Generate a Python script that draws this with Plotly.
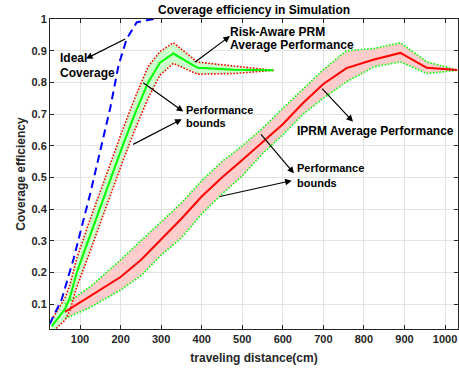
import plotly.graph_objects as go

# ---------------- data ----------------
ideal_x = [25, 55, 84, 100, 125, 150, 175, 195, 215, 240, 260, 282]
ideal_y = [0.037, 0.116, 0.243, 0.322, 0.448, 0.585, 0.722, 0.854, 0.937, 0.99, 0.995, 1.0]

ra_x = [30, 63, 75, 92, 120, 148, 176, 205, 235, 268, 297, 330, 390, 480, 577]
ra_mean = [0.03, 0.085, 0.12, 0.2, 0.3, 0.4, 0.5, 0.6, 0.7, 0.8, 0.862, 0.891, 0.846, 0.840, 0.838]
ra_upper = [0.05, 0.12, 0.16, 0.245, 0.35, 0.45, 0.55, 0.65, 0.75, 0.85, 0.897, 0.925, 0.864, 0.852, 0.838]
ra_lower = [0.01, 0.05, 0.08, 0.155, 0.25, 0.35, 0.45, 0.55, 0.65, 0.75, 0.823, 0.860, 0.826, 0.828, 0.838]

ip_x = [63, 125, 200, 250, 300, 350, 400, 450, 500, 550, 600, 650, 700, 757, 825, 890, 955, 1030]
ip_mean = [0.076, 0.125, 0.186, 0.24, 0.305, 0.37, 0.44, 0.50, 0.555, 0.613, 0.668, 0.735, 0.795, 0.845, 0.872, 0.893, 0.846, 0.839]
ip_upper = [0.10, 0.155, 0.24, 0.30, 0.36, 0.42, 0.49, 0.55, 0.60, 0.655, 0.718, 0.78, 0.84, 0.90, 0.907, 0.925, 0.865, 0.839]
ip_lower = [0.055, 0.09, 0.145, 0.19, 0.255, 0.31, 0.385, 0.448, 0.505, 0.575, 0.635, 0.70, 0.75, 0.802, 0.849, 0.865, 0.828, 0.838]

x_ticks = [100, 200, 300, 400, 500, 600, 700, 800, 900, 1000]
y_ticks = [0.1, 0.2, 0.3, 0.4, 0.5, 0.6, 0.7, 0.8, 0.9, 1.0]
y_tick_text = ["0.1", "0.2", "0.3", "0.4", "0.5", "0.6", "0.7", "0.8", "0.9", "1"]

title_text = "Coverage efficiency in Simulation"
x_label = "traveling distance(cm)"
y_label = "Coverage efficiency"

FONT = "Liberation Sans, Arial, sans-serif"
DARK = "#262626"

fig = go.Figure()

# fills
fig.add_trace(go.Scatter(x=ip_x + ip_x[::-1], y=ip_upper + ip_lower[::-1], fill="toself",
                         fillcolor="rgb(255,204,204)", line=dict(width=0), mode="lines",
                         hoverinfo="skip", showlegend=False))
fig.add_trace(go.Scatter(x=ra_x + ra_x[::-1], y=ra_upper + ra_lower[::-1], fill="toself",
                         fillcolor="rgb(204,255,204)", line=dict(width=0), mode="lines",
                         hoverinfo="skip", showlegend=False))

# bounds
for yy in (ip_upper, ip_lower):
    fig.add_trace(go.Scatter(x=ip_x, y=yy, mode="lines", showlegend=False,
                             line=dict(color="#00ff00", width=1.6, dash="1.6px,1.6px")))
for yy in (ra_upper, ra_lower):
    fig.add_trace(go.Scatter(x=ra_x, y=yy, mode="lines", showlegend=False,
                             line=dict(color="#ff0000", width=1.6, dash="1.6px,1.6px")))

# means
fig.add_trace(go.Scatter(x=ip_x, y=ip_mean, mode="lines", showlegend=False,
                         line=dict(color="#ff0000", width=2)))
fig.add_trace(go.Scatter(x=ra_x, y=ra_mean, mode="lines", showlegend=False,
                         line=dict(color="#00ff00", width=2)))
fig.add_trace(go.Scatter(x=ideal_x, y=ideal_y, mode="lines", showlegend=False,
                         line=dict(color="#0000ff", width=2, dash="8px,5px")))

# arrows: (head_x, head_y, tail_x, tail_y)
arrows = [
    (114.8, 0.875, 215.1, 0.939),
    (469.8, 0.946, 379.3, 0.860),
    (354.7, 0.708, 252.1, 0.802),
    (350.7, 0.684, 227.4, 0.602),
    (773.1, 0.676, 693.5, 0.785),
    (627.6, 0.513, 543.1, 0.641),
    (622.0, 0.490, 441.0, 0.439),
]
for hx, hy, tx, ty in arrows:
    fig.add_annotation(x=hx, y=hy, ax=tx, ay=ty, xref="x", yref="y", axref="x", ayref="y",
                       text="", showarrow=True, arrowhead=2, arrowsize=1.1, arrowwidth=1.2,
                       arrowcolor="black", standoff=0, startstandoff=0)

# text labels: (x, y, text, size)
labels = [
    (46, 0.877, "Ideal", 12),
    (46, 0.830, "Coverage", 12),
    (465, 0.959, "Risk-Aware PRM", 12),
    (465, 0.918, "Average Performance", 12),
    (357, 0.713, "Performance", 11),
    (357, 0.672, "bounds", 11),
    (630, 0.647, "IPRM Average Performance", 12),
    (630, 0.530, "Performance", 11),
    (630, 0.484, "bounds", 11),
]
for lx, ly, t, s in labels:
    fig.add_annotation(x=lx, y=ly, xref="x", yref="y", text=t, showarrow=False,
                       xanchor="left", yanchor="middle",
                       font=dict(family=FONT, size=s, color="black", weight="bold"))

# title (paper coords span the plot area: top 19px, height 310px)
fig.add_annotation(x=0.5, y=1 + (19 - 10) / 310, xref="paper", yref="paper", text=title_text,
                   showarrow=False, xanchor="center", yanchor="middle",
                   font=dict(family=FONT, size=12, color="black", weight="bold"))

fig.update_layout(
    width=459, height=372,
    margin=dict(l=50, r=1, t=19, b=43),
    paper_bgcolor="white", plot_bgcolor="white",
    font=dict(family=FONT, color=DARK),
    xaxis=dict(range=[26, 1032], tickvals=x_ticks, ticks="inside", ticklen=4,
               tickcolor=DARK, showline=True, linecolor=DARK, linewidth=1, mirror="ticks",
               showgrid=True, gridcolor="#e3e3e3", gridwidth=1, zeroline=False,
               tickfont=dict(family=FONT, size=11, color=DARK, weight="bold"),
               title=dict(text=x_label, standoff=9,
                          font=dict(family=FONT, size=12, color=DARK, weight="bold"))),
    yaxis=dict(range=[0.022, 1.0], tickvals=y_ticks, ticktext=y_tick_text, ticks="inside",
               ticklen=4, tickcolor=DARK, showline=True, linecolor=DARK, linewidth=1,
               mirror="ticks", showgrid=True, gridcolor="#e3e3e3", gridwidth=1, zeroline=False,
               tickfont=dict(family=FONT, size=11, color=DARK, weight="bold"),
               title=dict(text=y_label, standoff=3,
                          font=dict(family=FONT, size=12, color=DARK, weight="bold"))),
)

fig.write_html("out.html")
